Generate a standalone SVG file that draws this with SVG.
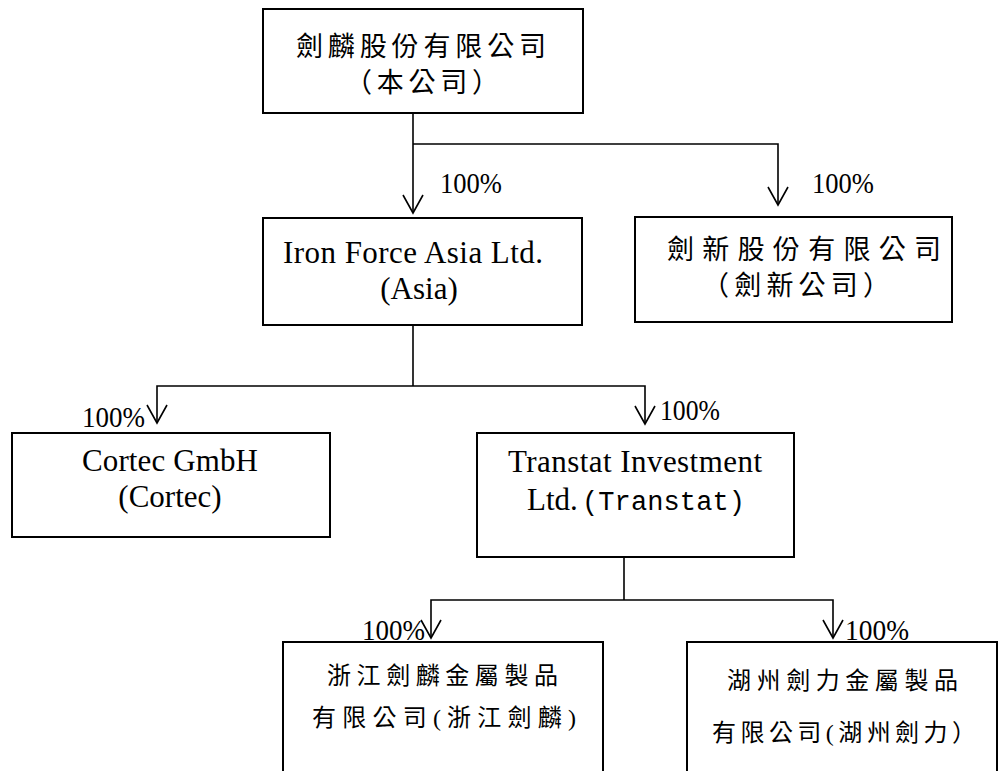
<svg xmlns="http://www.w3.org/2000/svg" width="999" height="771" viewBox="0 0 999 771">
<style>
.box{fill:#fff;stroke:#000;stroke-width:2}
.con{fill:none;stroke:#000;stroke-width:1.6}
.en{font-family:"Liberation Serif","Times New Roman",serif;font-size:31px;fill:#000}
.pct{font-family:"Liberation Serif","Times New Roman",serif;font-size:29px;fill:#000}
.zh{font-family:"Liberation Serif","Noto Sans CJK TC",serif;font-size:27px;fill:#000}
.zs{font-family:"Liberation Serif","Noto Sans CJK TC",serif;font-size:24px;fill:#000}
.mono{font-family:"Liberation Mono","Courier New",monospace;font-size:27px;fill:#000}
</style>
<defs>
<marker id="arr" markerWidth="24" markerHeight="24" viewBox="-20 -12 24 24" refX="0" refY="0" orient="auto" markerUnits="userSpaceOnUse">
<path d="M-18,-10 L0,0 L-18,10" fill="none" stroke="#000" stroke-width="1.6"/>
</marker>
</defs>
<rect width="999" height="771" fill="#fff"/>
<g id="connectors">
<path class="con" d="M413,113 V213" marker-end="url(#arr)"/>
<path class="con" d="M413,144 H778 V205" marker-end="url(#arr)"/>
<path class="con" d="M413,325 V386"/>
<path class="con" d="M413,386 H157 V423" marker-end="url(#arr)"/>
<path class="con" d="M413,386 H645 V424" marker-end="url(#arr)"/>
<path class="con" d="M624,557 V600"/>
<path class="con" d="M624,600 H431 V638" marker-end="url(#arr)"/>
<path class="con" d="M624,600 H833 V638" marker-end="url(#arr)"/>
</g>
<g id="labels">
<text class="pct" x="440" y="193" textLength="62" lengthAdjust="spacingAndGlyphs">100%</text>
<text class="pct" x="812" y="193" textLength="62" lengthAdjust="spacingAndGlyphs">100%</text>
<text class="pct" x="82" y="427" textLength="63" lengthAdjust="spacingAndGlyphs">100%</text>
<text class="pct" x="660" y="420" textLength="60" lengthAdjust="spacingAndGlyphs">100%</text>
<text class="pct" x="362" y="640" textLength="63" lengthAdjust="spacingAndGlyphs">100%</text>
<text class="pct" x="845" y="640" textLength="64" lengthAdjust="spacingAndGlyphs">100%</text>
</g>
<g id="node-parent">
<rect class="box" x="263" y="9" width="320" height="104"/>
<text class="zh" x="296" y="56" textLength="250" lengthAdjust="spacing">劍麟股份有限公司</text>
<text class="zh" x="345" y="92" textLength="154" lengthAdjust="spacing">（本公司）</text>
</g>
<g id="node-asia">
<rect class="box" x="263" y="218" width="319" height="107"/>
<text class="en" x="283" y="263" textLength="260" lengthAdjust="spacing">Iron Force Asia Ltd.</text>
<text class="en" x="419" y="299" text-anchor="middle">(Asia)</text>
</g>
<g id="node-jianxin">
<rect class="box" x="635" y="217" width="317" height="105"/>
<text class="zh" x="667" y="259" textLength="274" lengthAdjust="spacing">劍新股份有限公司</text>
<text class="zh" x="702" y="295" textLength="188" lengthAdjust="spacing">（劍新公司）</text>
</g>
<g id="node-cortec">
<rect class="box" x="12" y="433" width="318" height="104"/>
<text class="en" x="82" y="471" textLength="176" lengthAdjust="spacing">Cortec GmbH</text>
<text class="en" x="170" y="507" text-anchor="middle">(Cortec)</text>
</g>
<g id="node-transtat">
<rect class="box" x="477" y="433" width="317" height="124"/>
<text class="en" x="508" y="472" textLength="254" lengthAdjust="spacing">Transtat Investment</text>
<text class="en" x="527" y="510">Ltd.</text>
<text class="mono" x="582" y="510" textLength="163" lengthAdjust="spacing">(Transtat)</text>
</g>
<g id="node-zhejiang">
<rect class="box" x="283" y="642" width="320" height="160"/>
<text class="zs" x="327" y="684" textLength="231" lengthAdjust="spacing">浙江劍麟金屬製品</text>
<text class="zs" x="312" y="726" textLength="264" lengthAdjust="spacing">有限公司(浙江劍麟)</text>
</g>
<g id="node-huzhou">
<rect class="box" x="687" y="642" width="310" height="160"/>
<text class="zs" x="727" y="689" textLength="231" lengthAdjust="spacing">湖州劍力金屬製品</text>
<text class="zs" x="712" y="741" textLength="264" lengthAdjust="spacing">有限公司(湖州劍力）</text>
</g>
</svg>
